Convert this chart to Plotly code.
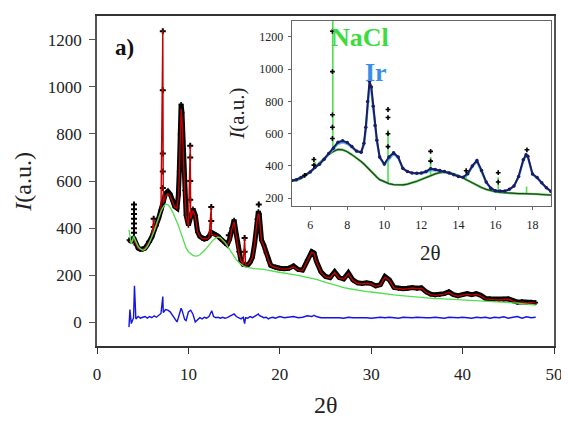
import plotly.graph_objects as go
import pandas as pd

# ---------------- data ----------------
two_theta = [3.5, 3.6, 3.75, 4.0, 4.25, 4.5, 4.75, 5.0, 5.25, 5.5, 5.75, 6.0, 6.25, 6.5, 6.75,
             7.0, 7.25, 7.5, 7.75, 8.0, 8.25, 8.5, 8.75, 8.9, 9.0, 9.1, 9.2, 9.3, 9.4, 9.5, 9.6,
             9.75, 10.0, 10.25, 10.5, 10.75, 11.0, 11.25, 11.5, 11.75, 12.0, 12.25, 12.5, 12.75,
             13.0, 13.25, 13.5, 13.75, 14.0, 14.25, 14.5, 14.75, 15.0, 15.25, 15.5, 15.75, 16.0,
             16.25, 16.5, 16.75, 17.0, 17.25, 17.5, 17.65, 17.75, 18.0, 18.25, 18.5, 18.75, 19.0,
             19.25, 19.5, 19.75,
             20.0, 20.5, 21.0, 21.5, 22.0, 22.5, 23.0, 23.5, 23.75, 24.0, 24.5, 25.0, 25.5, 26.0,
             26.5, 27.0, 27.5, 28.0, 28.5, 29.0, 29.5, 30.0, 30.5, 31.0, 31.5, 32.0, 32.5, 33.0,
             33.5, 34.0, 34.5, 35.0, 35.5, 36.0, 36.5, 37.0, 37.5, 38.0, 38.5, 39.0, 39.5, 40.0,
             40.5, 41.0, 41.5, 42.0, 42.5, 43.0, 43.5, 44.0, 44.5, 45.0, 45.5, 46.0, 46.5, 47.0,
             47.5, 48.0]

i_obs = [350, 346, 345, 360, 330, 315, 310, 310, 315, 328, 345, 362, 390, 410, 442,
         477, 510, 547, 556, 545, 520, 492, 485, 540, 640, 800, 925, 890, 770, 650, 560,
         455, 412, 455, 482, 455, 385, 365, 356, 354, 356, 365, 383, 378,
         372, 366, 356, 346, 335, 330, 352, 400, 434, 372, 300, 262, 246,
         244, 244, 255, 275, 335, 438, 470, 460, 350, 328, 295, 265, 242,
         238, 234, 232,
         230, 228, 230, 240, 225, 222, 265, 300, 295, 260, 215, 195, 190, 215,
         190, 185, 210, 180, 168, 165, 168, 165, 155, 160, 195, 180, 148, 145,
         143, 145, 148, 145, 147, 130, 120, 117, 118, 122, 130, 118, 113, 118,
         122, 118, 122, 115, 102, 100, 98, 97, 99, 100, 92, 86, 88, 85,
         86, 84]

i_calc = [345, 342, 340, 352, 330, 315, 310, 310, 315, 328, 345, 362, 388, 408, 440,
          473, 505, 537, 546, 537, 515, 490, 483, 530, 622, 775, 905, 862, 750, 636, 552,
          452, 408, 440, 475, 450, 383, 365, 356, 354, 354, 360, 373, 372,
          368, 365, 355, 345, 334, 328, 345, 395, 427, 366, 298, 261, 246,
          244, 244, 255, 275, 331, 430, 462, 452, 346, 324, 293, 264, 242,
          237, 233, 231,
          228, 226, 228, 236, 223, 220, 262, 298, 292, 258, 213, 193, 188, 212,
          188, 183, 207, 178, 166, 163, 166, 163, 153, 158, 192, 178, 146, 143,
          141, 143, 146, 143, 145, 128, 118, 115, 116, 120, 128, 116, 111, 116,
          120, 116, 120, 113, 100, 98, 96, 95, 97, 98, 90, 84, 86, 83,
          84, 82]

i_bkg = [394, 360, 332, 365, 345, 322, 312, 306, 310, 322, 340, 362, 388, 418, 447,
         472, 490, 502, 500, 488, 470, 450, 427, 412, 400, 388, 375, 362, 350, 340, 330,
         315, 300, 290, 284, 281, 282, 287, 295, 305, 316, 328, 341, 351,
         358, 362, 360, 352, 340, 325, 309, 293, 279, 266, 255, 246, 240,
         236, 233, 231, 229, 228, 228, 228, 227, 226, 225, 223, 222, 220,
         218, 216, 214,
         212, 209, 206, 203, 200, 196, 192, 188, 186, 183, 176, 170, 164, 158,
         153, 148, 144, 140, 137, 134, 131, 129, 126, 123, 121, 119, 117, 115,
         113, 111, 109, 107, 105, 104, 102, 101, 101, 100, 99, 98, 97, 97,
         96, 95, 94, 93, 92, 91, 90, 89, 88, 86, 84, 82, 80, 78,
         76, 74]

i_diff = [-20, 55, -5, 20, 15, 25, 18, 22, 25, 18, 25, 20, 28, 22, 32,
          38, 42, 55, 52, 45, 30, 12, 2, 20, 35, 50, 60, 52, 35, 20, 12,
          8, 45, 52, 35, 2, 12, 20, 15, 22, 18, 25, 45, 25,
          20, 22, 18, 22, 18, 20, 25, 32, 36, 25, 20, 15, 22,
          20, 18, 25, 20, 26, 32, 36, 30, 25, 20, 22, 15, 20,
          22, 18, 22,
          25, 20, 22, 25, 20, 22, 28, 25, 30, 25, 20, 20, 22, 20,
          20, 18, 22, 20, 20, 22, 20, 18, 20, 22, 20, 22, 20, 18,
          22, 20, 20, 22, 20, 20, 20, 22, 20, 18, 22, 20, 20, 22,
          20, 18, 22, 20, 22, 18, 22, 20, 24, 18, 22, 25, 18, 24,
          20, 22]

# sharp single-point reflections (calc line spikes)
calc_spike_theta = [6.2, 7.2, 10.2, 12.5, 16.15]
calc_spike_top = [440, 1240, 750, 490, 358]

# difference-curve spikes
diff_spike_theta = [4.1, 7.2, 12.55, 16.15]
diff_spike = [155, 110, 50, -5]

# stacked observed points along the sharp reflections
spike_mark_theta = [4.05, 4.05, 4.05, 4.05, 4.05, 4.05, 4.05, 6.2, 6.2, 7.2, 7.2, 7.2, 7.2, 7.2,
                    10.2, 10.2, 10.2, 10.2, 12.5, 12.5, 14.42, 16.15, 16.15, 17.7, 5.7]
spike_mark_i = [500, 480, 460, 440, 420, 400, 380, 440, 405, 1235, 985, 717, 640, 570,
                750, 700, 600, 520, 490, 430, 370, 358, 300, 500, 342]

# NaCl reflections (inset, green): position, base and top of each line
nacl_theta = [6.28, 7.22, 10.2, 12.5, 14.42, 16.15, 17.68]
nacl_base = [390, 490, 290, 342, 310, 238, 227]
nacl_top = [425, 1320, 625, 455, 370, 330, 272]

# ---------------- styling ----------------
SERIF = "Liberation Serif, Times New Roman, serif"
RED = "#c40000"
GREEN = "#4ee04e"
BLUE = "#1414e6"
NAVY = "#1c1c66"

calc_df = pd.DataFrame({"x": two_theta + calc_spike_theta,
                        "y": i_calc + calc_spike_top}).sort_values("x")
diff_df = pd.DataFrame({"x": two_theta + diff_spike_theta,
                        "y": i_diff + diff_spike}).sort_values("x")

nacl_x, nacl_y = [], []
for p, b, t in zip(nacl_theta, nacl_base, nacl_top):
    nacl_x += [p, p, None]
    nacl_y += [b, t, None]

fig = go.Figure()

# ---- main panel ----
fig.add_trace(go.Scatter(x=two_theta, y=i_obs, mode="lines+markers",
                         line=dict(color="black", width=5),
                         marker=dict(symbol="cross", size=4, color="black"),
                         xaxis="x", yaxis="y", showlegend=False))
fig.add_trace(go.Scatter(x=spike_mark_theta, y=spike_mark_i, mode="markers",
                         marker=dict(symbol="cross", size=5, color="black"),
                         xaxis="x", yaxis="y", showlegend=False))
fig.add_trace(go.Scatter(x=calc_df["x"], y=calc_df["y"], mode="lines",
                         line=dict(color=RED, width=1.4),
                         xaxis="x", yaxis="y", showlegend=False))
fig.add_trace(go.Scatter(x=two_theta, y=i_bkg, mode="lines",
                         line=dict(color=GREEN, width=1.3),
                         xaxis="x", yaxis="y", showlegend=False))
fig.add_trace(go.Scatter(x=diff_df["x"], y=diff_df["y"], mode="lines",
                         line=dict(color=BLUE, width=1.4),
                         xaxis="x", yaxis="y", showlegend=False))

# ---- inset ----
fig.add_trace(go.Scatter(x=two_theta, y=i_bkg, mode="lines",
                         line=dict(color=GREEN, width=2.4),
                         xaxis="x2", yaxis="y2", showlegend=False))
fig.add_trace(go.Scatter(x=nacl_x, y=nacl_y, mode="lines",
                         line=dict(color=GREEN, width=1.6),
                         xaxis="x2", yaxis="y2", showlegend=False))
fig.add_trace(go.Scatter(x=two_theta, y=i_bkg, mode="lines",
                         line=dict(color="#333333", width=1.2),
                         xaxis="x2", yaxis="y2", showlegend=False))
fig.add_trace(go.Scatter(x=two_theta, y=i_calc, mode="lines",
                         line=dict(color="#58b8e8", width=2.2),
                         xaxis="x2", yaxis="y2", showlegend=False))
fig.add_trace(go.Scatter(x=two_theta, y=i_obs, mode="lines+markers",
                         line=dict(color=NAVY, width=2),
                         marker=dict(symbol="circle", size=3.5, color=NAVY),
                         xaxis="x2", yaxis="y2", showlegend=False))
fig.add_trace(go.Scatter(x=spike_mark_theta, y=spike_mark_i, mode="markers",
                         marker=dict(symbol="cross", size=4, color="black"),
                         xaxis="x2", yaxis="y2", showlegend=False))

axis_common = dict(showgrid=False, zeroline=False, showline=True, mirror=True,
                   ticks="outside")

# page body has an 8px offset, so the figure is sized/placed to compensate
fig.update_layout(
    width=561, height=413,
    margin=dict(l=89, r=11, t=6, b=75),
    paper_bgcolor="white", plot_bgcolor="white",
    font=dict(family=SERIF, color="#222"),
    xaxis=dict(**axis_common, range=[0, 50], tickvals=[0, 10, 20, 30, 40, 50],
               linecolor="#333", linewidth=1.5, tickcolor="#333", ticklen=6, tickwidth=1.2,
               tickfont=dict(family=SERIF, size=17, color="#222"), ticklabelstandoff=6,
               domain=[0, 1], anchor="y"),
    yaxis=dict(**axis_common, range=[-100, 1300], tickvals=[0, 200, 400, 600, 800, 1000, 1200],
               linecolor="#555", linewidth=1.5, tickcolor="#555", ticklen=6, tickwidth=1.2,
               tickfont=dict(family=SERIF, size=17, color="#222"), ticklabelstandoff=4,
               domain=[0, 1], anchor="x"),
    xaxis2=dict(**axis_common, range=[5, 19], tickvals=[6, 8, 10, 12, 14, 16, 18],
                linecolor="#666", linewidth=1, tickcolor="#666", ticklen=3, tickwidth=1,
                tickfont=dict(family=SERIF, size=12, color="#222"), ticklabelstandoff=4,
                domain=[0.426, 0.9935], anchor="y2"),
    yaxis2=dict(**axis_common, range=[150, 1300], tickvals=[200, 400, 600, 800, 1000, 1200],
                linecolor="#666", linewidth=1, tickcolor="#666", ticklen=3, tickwidth=1,
                tickfont=dict(family=SERIF, size=12, color="#222"), ticklabelstandoff=2,
                domain=[0.4235, 0.9855], anchor="x2"),
)

ann = [
    dict(text="<b>a)</b>", x=0.061, y=0.905, size=23, color="#111"),
    dict(text="<i>I</i>(a.u.)", x=-0.161, y=0.499, size=24, color="#222", angle=-90),
    dict(text="2θ", x=0.501, y=-0.180, size=24, color="#222"),
    dict(text="<i>I</i>(a.u.)", x=0.306, y=0.703, size=21, color="#222", angle=-90),
    dict(text="2θ", x=0.729, y=0.282, size=21, color="#222"),
    dict(text="<b>NaCl</b>", x=0.576, y=0.935, size=26, color="#3cdc3c"),
    dict(text="<b>Ir</b>", x=0.610, y=0.830, size=26, color="#3a8ee6"),
]
for a in ann:
    fig.add_annotation(text=a["text"], x=a["x"], y=a["y"], xref="paper", yref="paper",
                       xanchor="center", yanchor="middle", showarrow=False,
                       textangle=a.get("angle", 0),
                       font=dict(family=SERIF, size=a["size"], color=a["color"]))

fig.write_html("out.html")
